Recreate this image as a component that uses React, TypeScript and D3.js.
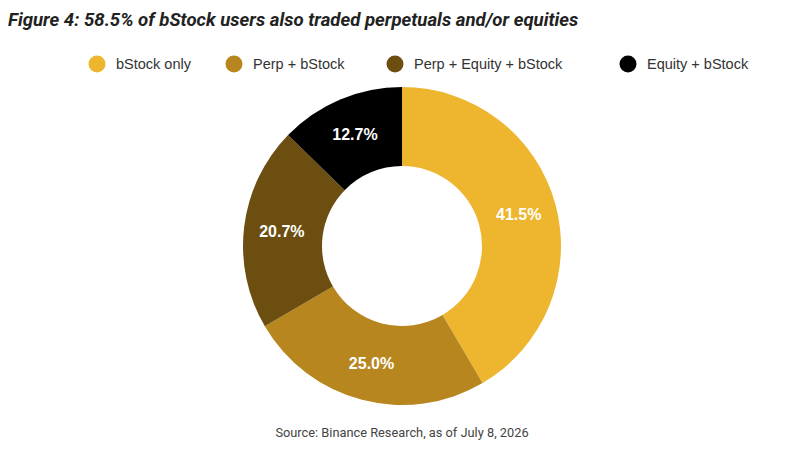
import React from "react";
import * as d3 from "d3";

const categories = ["bStock only", "Perp + bStock", "Perp + Equity + bStock", "Equity + bStock"];
const values = [41.5, 25.0, 20.7, 12.7];
const colors = ["#EDB62E", "#B8861F", "#6C4E11", "#000000"];
const legendX = [97, 234, 395, 628];
const title = "Figure 4: 58.5% of bStock users also traded perpetuals and/or equities";
const source = "Source: Binance Research, as of July 8, 2026";

export default function App() {
  const W = 800, H = 450;
  const cx = 402, cy = 246, rOuter = 159, rInner = 80;
  const pie = d3.pie<number>().sort(null).value((d) => d);
  const arcs = pie(values);
  const arc = d3.arc<d3.PieArcDatum<number>>().innerRadius(rInner).outerRadius(rOuter);
  const labelArc = d3.arc<d3.PieArcDatum<number>>().innerRadius(121).outerRadius(121);
  return (
    <svg width={W} height={H} style={{ position: "absolute", left: 0, top: 0, background: "#fff" }}>
      <rect width={W} height={H} fill="#fff" />
      <text x={8} y={26} fontFamily="Roboto, 'Open Sans', sans-serif" fontWeight="bold" fontStyle="italic" fontSize={18.6} fill="#222">
        {title}
      </text>
      {categories.map((c, i) => (
        <g key={c}>
          <circle cx={legendX[i]} cy={64} r={8.5} fill={colors[i]} />
          <text x={legendX[i] + 19} y={69} fontFamily="'Liberation Sans', Arial, sans-serif" fontSize={14.5} fill="#333">
            {c}
          </text>
        </g>
      ))}
      <g transform={`translate(${cx},${cy})`}>
        {arcs.map((a, i) => (
          <path key={i} d={arc(a) || ""} fill={colors[i]} />
        ))}
        {arcs.map((a, i) => {
          const [x, y] = labelArc.centroid(a);
          return (
            <text key={"l" + i} x={x} y={y} dy="0.35em" textAnchor="middle" fontFamily="'Liberation Sans', Arial, sans-serif" fontWeight="bold" fontSize={16} fill="#fff">
              {values[i].toFixed(1)}%
            </text>
          );
        })}
      </g>
      <text x={402} y={437} textAnchor="middle" fontFamily="Roboto, 'Open Sans', sans-serif" fontSize={12.8} fill="#444">
        {source}
      </text>
    </svg>
  );
}
